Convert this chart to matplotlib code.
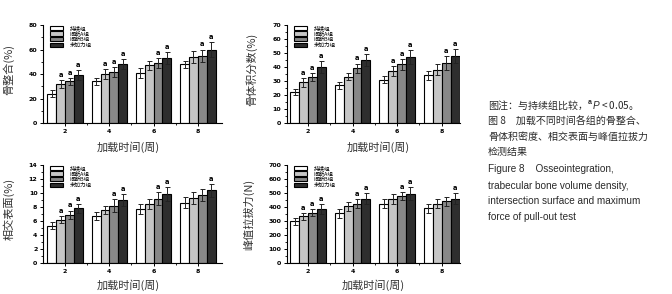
import numpy as np
import matplotlib
matplotlib.use('Agg')
import matplotlib.pyplot as plt
from matplotlib.ticker import MultipleLocator, FixedLocator

plt.rcParams['font.family'] = ['Noto Sans CJK SC', 'DejaVu Sans']
plt.rcParams['mathtext.fontset'] = 'custom'
plt.rcParams['mathtext.it'] = 'Liberation Sans:italic'
plt.rcParams['mathtext.bf'] = 'Liberation Sans:bold'
plt.rcParams['mathtext.rm'] = 'Liberation Sans'

weeks = ['2', '4', '6', '8']
groups = ['持续组', '间断A组', '间断B组', '未加力组']
colors = ['#ffffff', '#c6c6c6', '#888888', '#2e2e2e']

# 骨整合(%)
osseo = [[24, 34, 41, 48], [32, 40, 47, 54], [34, 42, 49, 55], [39, 48, 53, 60]]
osseo_err = [[3, 3, 4, 3], [3, 4, 4, 5], [3, 4, 4, 5], [4, 4, 5, 6]]
osseo_sig = [(0, 1), (0, 2), (0, 3), (1, 1), (1, 2), (1, 3), (2, 2), (2, 3), (3, 2), (3, 3)]

# 骨体积分数(%)
bvf = [[22, 27, 31, 34], [29, 33, 37, 38], [33, 39, 42, 43], [40, 45, 47, 48]]
bvf_err = [[2, 2.5, 2.5, 3], [3, 2.5, 3.5, 4], [3, 3.5, 4, 5], [4, 4, 5, 5]]
bvf_sig = [(0, 1), (0, 2), (0, 3), (1, 2), (1, 3), (2, 1), (2, 2), (2, 3), (3, 2), (3, 3)]

# 相交表面(%)
isurf = [[5.3, 6.7, 7.7, 8.6], [6.2, 7.6, 8.4, 9.3], [6.9, 8.2, 9.2, 9.7], [7.8, 9.0, 9.8, 10.4]]
isurf_err = [[0.5, 0.6, 0.7, 0.8], [0.5, 0.6, 0.7, 0.8], [0.6, 0.9, 0.9, 0.9], [0.6, 0.9, 1.0, 0.9]]
isurf_sig = [(0, 1), (0, 2), (0, 3), (1, 2), (1, 3), (2, 2), (2, 3), (3, 3)]

# 峰值拉拔力(N)
pull = [[300, 355, 425, 390], [335, 405, 460, 425], [360, 425, 480, 440], [385, 460, 495, 460]]
pull_err = [[25, 30, 30, 30], [25, 30, 35, 30], [25, 30, 30, 35], [35, 40, 45, 40]]
pull_sig = [(0, 1), (0, 2), (0, 3), (1, 2), (1, 3), (2, 2), (2, 3), (3, 3)]

fig = plt.figure(figsize=(6.72, 2.94), dpi=100)

panels = [
    ([0.064, 0.5816, 0.266, 0.333], osseo, osseo_err, osseo_sig, '骨整合(%)', 80, 20, (-0.5, 3.54), (-0.16, 0.55), (0.475, -0.19)),
    ([0.427, 0.5816, 0.2575, 0.333], bvf, bvf_err, bvf_sig, '骨体积分数(%)', 70, 10, (-0.47, 3.41), (-0.17, 0.55), (0.53, -0.19)),
    ([0.064, 0.1054, 0.266, 0.333], isurf, isurf_err, isurf_sig, '相交表面(%)', 14, 2, (-0.5, 3.54), (-0.16, 0.55), (0.475, -0.165)),
    ([0.427, 0.1054, 0.2575, 0.333], pull, pull_err, pull_sig, '峰值拉拔力(N)', 700, 100, (-0.47, 3.41), (-0.19, 0.5), (0.5, -0.165)),
]

x = np.arange(len(weeks))
w = 0.2
for rect, vals, errs, sig, ylab, ymax, ystep, xl, ylpos, xlpos in panels:
    ax = fig.add_axes(rect)
    for i in range(4):
        ax.bar(x + (i - 1.5) * w, vals[i], w, yerr=errs[i], color=colors[i],
               edgecolor='black', linewidth=0.8, label=groups[i],
               error_kw=dict(elinewidth=0.7, capsize=1.8, capthick=0.7, ecolor='#222222'))
    for g, s in sig:
        ax.annotate('a', (x[g] + (s - 1.5) * w, vals[s][g] + errs[s][g]),
                    xytext=(0, 1.5), textcoords='offset points', ha='center', va='bottom',
                    fontsize=4.8, fontweight='bold', family='DejaVu Sans')
    ax.set_xlim(*xl)
    ax.set_ylim(0, ymax)
    ax.set_xticks(x)
    ax.set_xticklabels(weeks)
    ax.xaxis.set_minor_locator(FixedLocator([0.5, 1.5, 2.5]))
    ax.yaxis.set_major_locator(MultipleLocator(ystep))
    ax.yaxis.set_minor_locator(MultipleLocator(ystep / 2))
    ax.tick_params(which='major', length=2.5, width=0.7, labelsize=4.5, pad=1.5)
    ax.tick_params(which='minor', length=1.5, width=0.6)
    for lab in ax.get_xticklabels() + ax.get_yticklabels():
        lab.set_fontweight('bold')
        lab.set_family('DejaVu Sans')
    for sp in ['top', 'right']:
        ax.spines[sp].set_visible(False)
    for sp in ['left', 'bottom']:
        ax.spines[sp].set_linewidth(0.8)
    ax.set_ylabel(ylab, fontsize=8, color='#333333')
    ax.yaxis.set_label_coords(*ylpos)
    ax.set_xlabel('加载时间(周)', fontsize=8, color='#333333')
    ax.xaxis.set_label_coords(*xlpos)
    ax.legend(loc='upper left', bbox_to_anchor=(0.02, 1.03), frameon=False, fontsize=4,
              handlelength=2.4, handleheight=0.8, labelspacing=0.08, handletextpad=1.2,
              borderpad=0.1)

cn_lines = [
    ('图注：与持续组比较，$^{\\mathbf{a}}P$ < 0.05。', 105),
    ('图 8　加载不同时间各组的骨整合、', 122),
    ('骨体积密度、相交表面与峰值拉拔力', 137),
    ('检测结果', 152),
]
en_lines = [
    ('Figure 8    Osseointegration,', 169),
    ('trabecular bone volume density,', 186),
    ('intersection surface and maximum', 201),
    ('force of pull-out test', 217),
]
for txt, ypix in cn_lines:
    fig.text(488 / 672, 1 - ypix / 294, txt, fontsize=7.2, color='#2a2a2a',
             ha='left', va='center', family=['Noto Sans CJK SC', 'Liberation Sans'])
for txt, ypix in en_lines:
    fig.text(488 / 672, 1 - ypix / 294, txt, fontsize=7.2, color='#2a2a2a',
             ha='left', va='center', family='Liberation Sans')

fig.savefig('out.png', dpi=100, facecolor='white')
